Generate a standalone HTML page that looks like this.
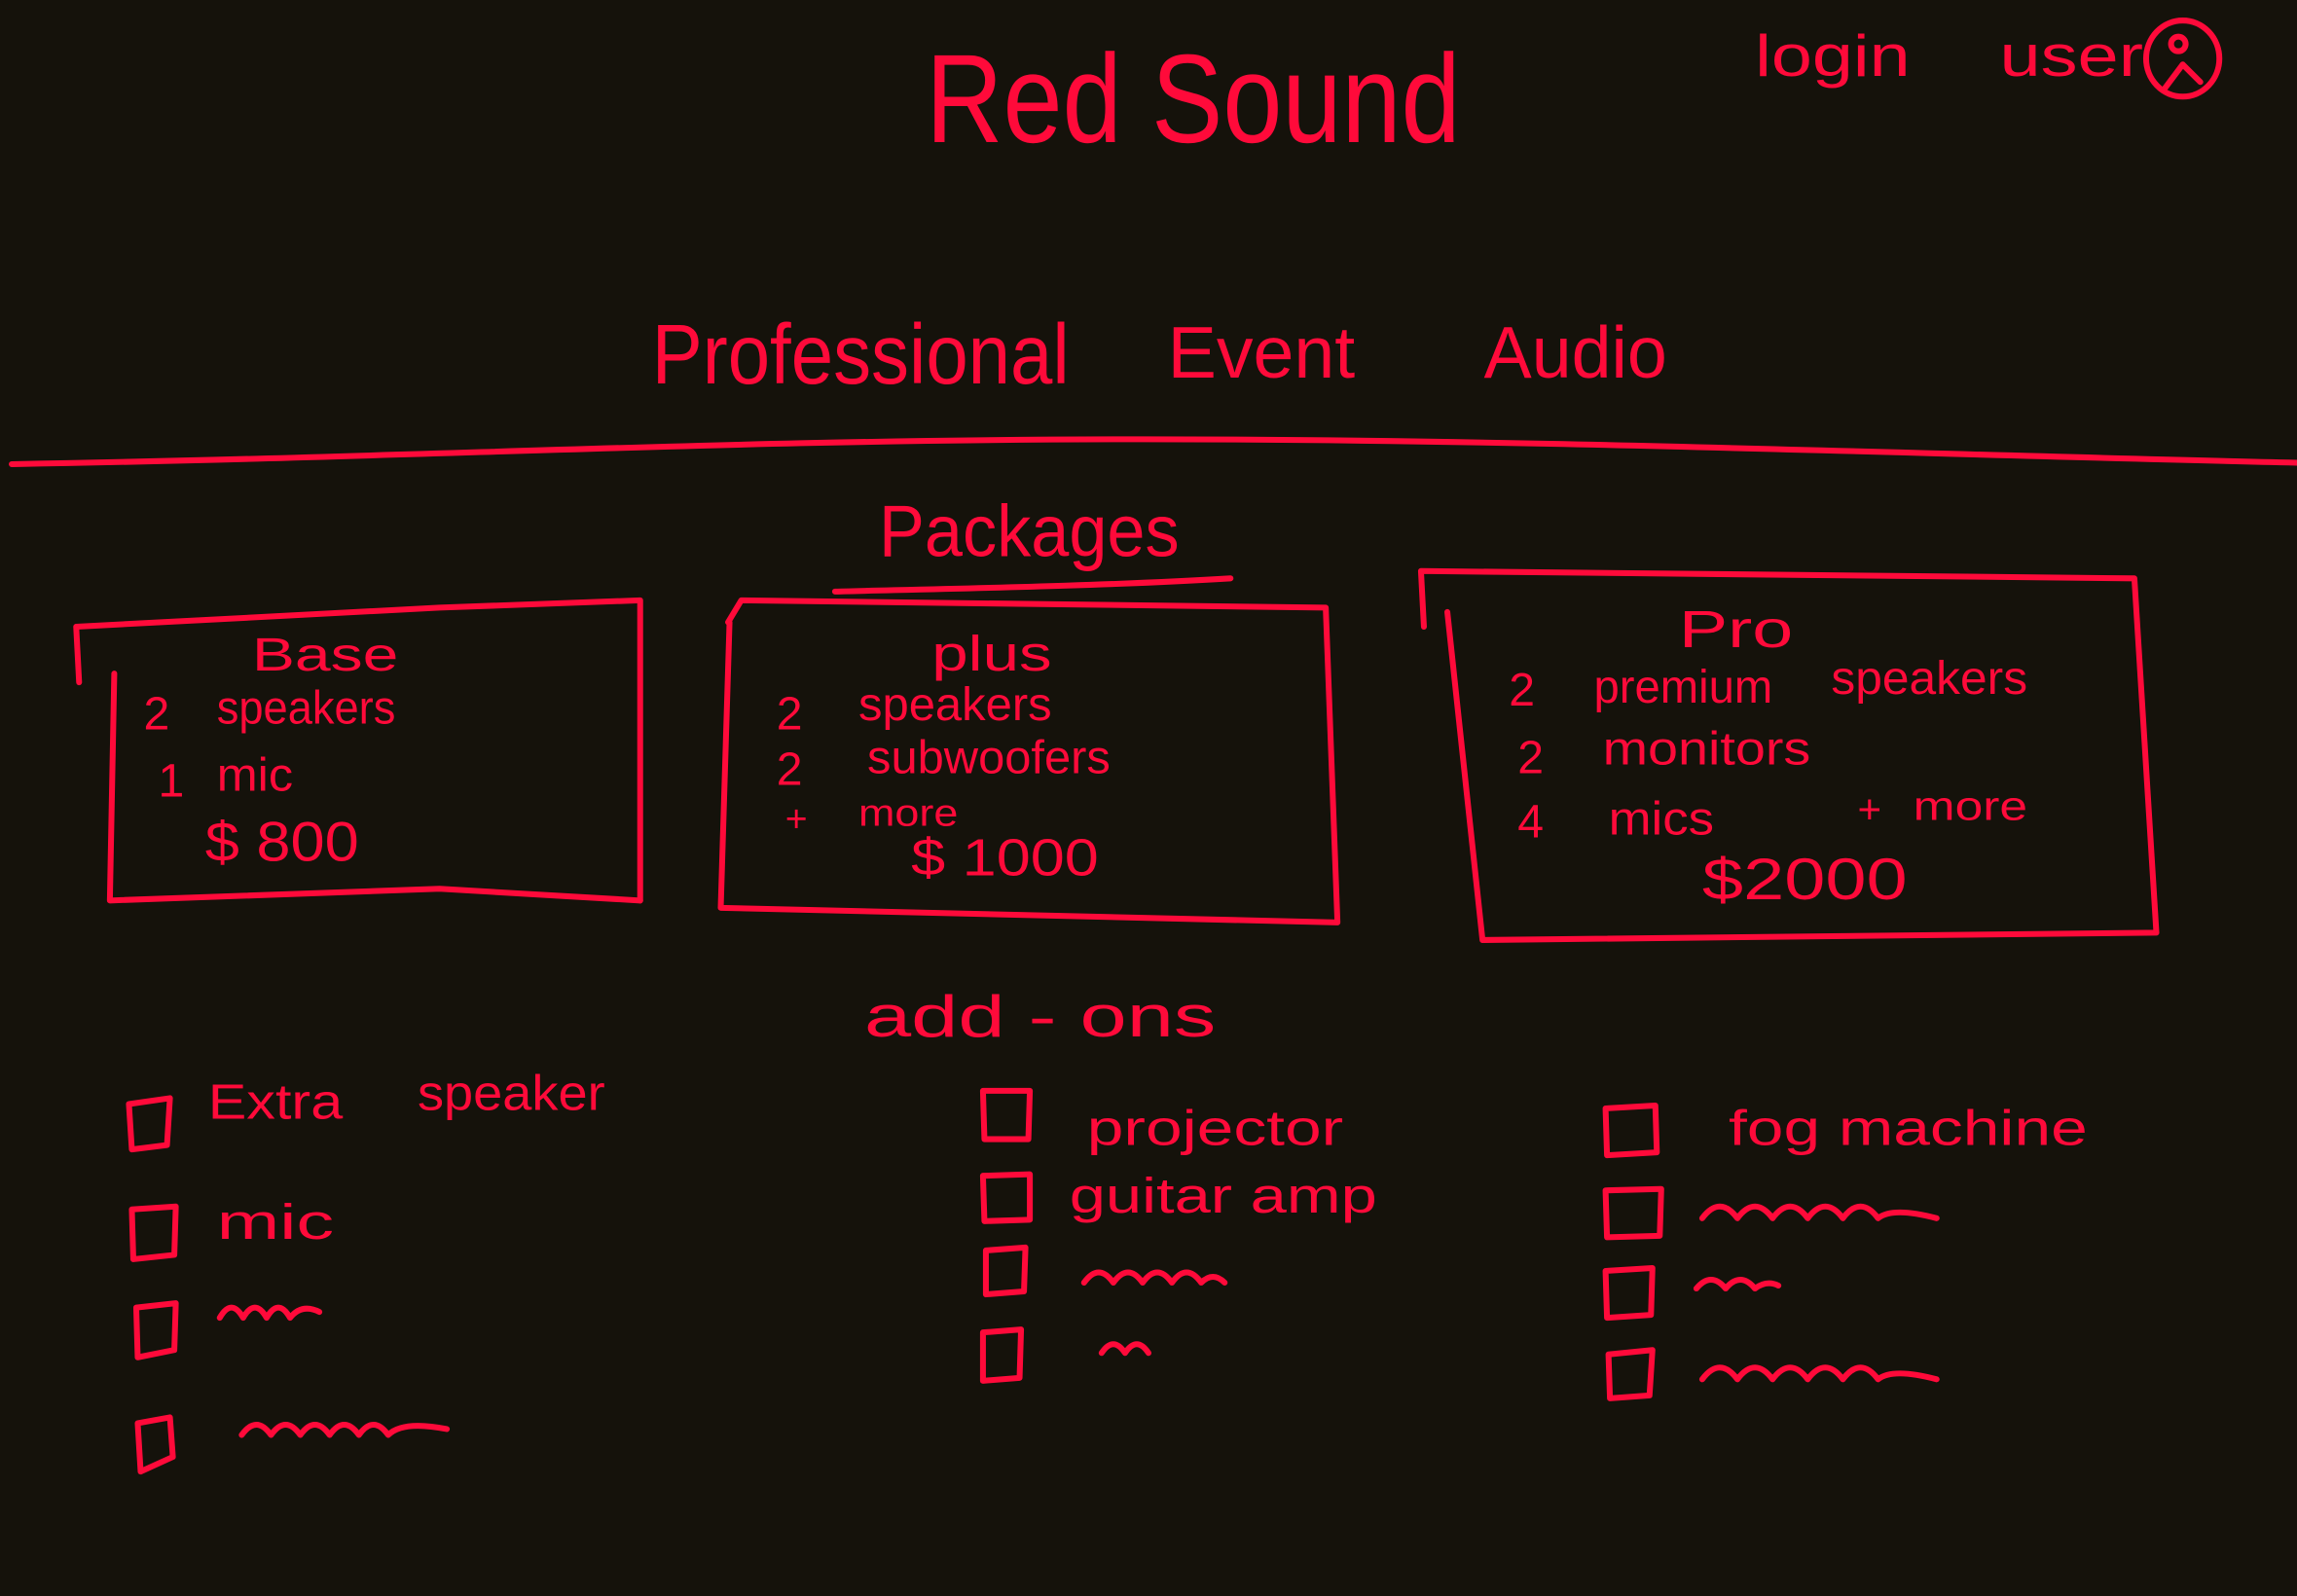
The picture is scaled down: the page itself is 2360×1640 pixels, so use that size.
<!DOCTYPE html>
<html><head><meta charset="utf-8"><style>
html,body{margin:0;padding:0;background:#15120b;}
svg{display:block;}
text{font-family:"Liberation Sans",sans-serif;fill:#ff0a3a;}
</style></head><body>
<svg width="2360" height="1640" viewBox="0 0 1568 1090" preserveAspectRatio="none" xmlns="http://www.w3.org/2000/svg">
<rect width="1568" height="1090" fill="#15120b"/>
<g fill="none" stroke="#ff0a3a" stroke-width="4" stroke-linecap="round" stroke-linejoin="round">
<!-- header line -->
<path d="M8 317 C300 312 500 300 780 300 C1050 300 1300 310 1568 316"/>
<!-- packages underline -->
<path d="M570 404 C650 402 760 400 840 395"/>
<!-- user icon -->
<ellipse cx="1490" cy="40" rx="25" ry="26"/>
<path d="M1478 60 L1490 44 L1502 56"/>
<circle cx="1487" cy="30" r="5"/>
<!-- box1 -->
<path d="M54 466 L52 428 L300 415 L437 410 L437 615"/>
<path d="M78 460 L75 615 L300 607 L437 615"/>
<!-- box2 -->
<path d="M497 425 L506 410 L905 415 L913 630 L492 620 L498 425"/>
<!-- box3 -->
<path d="M972 428 L970 390 L1457 395 L1472 637 L1012 642 L988 418"/>
<!-- checkboxes col1 -->
<path d="M88 754 L116 750 L114 782 L90 785 Z"/>
<path d="M90 826 L120 824 L119 857 L91 860 Z"/>
<path d="M93 893 L120 890 L119 922 L94 927 Z"/>
<path d="M94 972 L116 968 L118 995 L96 1005 Z"/>
<!-- col2 -->
<path d="M671 745 L703 745 L702 778 L672 778 Z"/>
<path d="M671 803 L703 802 L703 833 L672 834 Z"/>
<path d="M673 854 L700 852 L699 882 L673 884 Z"/>
<path d="M671 910 L697 908 L696 941 L671 943 Z"/>
<!-- col3 -->
<path d="M1096 757 L1130 755 L1131 787 L1097 789 Z"/>
<path d="M1096 813 L1134 812 L1133 844 L1097 845 Z"/>
<path d="M1096 868 L1128 866 L1127 898 L1097 900 Z"/>
<path d="M1098 925 L1128 922 L1126 953 L1099 955 Z"/>
<!-- squiggles -->
<path d="M150 900 q8 -14 16 0 q8 -14 16 0 q8 -14 16 0 q8 -10 20 -4"/>
<path d="M165 980 q10 -14 20 0 q10 -14 20 0 q10 -14 20 0 q10 -14 20 0 q10 -14 20 0 q10 -10 40 -4"/>
<path d="M740 876 q10 -14 20 0 q10 -14 20 0 q10 -14 20 0 q10 -14 20 0 q8 -8 16 0"/>
<path d="M752 924 q8 -12 16 0 q8 -12 16 0"/>
<path d="M1162 832 q12 -16 24 0 q12 -16 24 0 q12 -16 24 0 q12 -16 24 0 q12 -16 24 0 q10 -8 40 0"/>
<path d="M1158 880 q10 -12 20 0 q10 -12 20 0 q8 -6 16 -2"/>
<path d="M1162 942 q12 -16 24 0 q12 -16 24 0 q12 -16 24 0 q12 -16 24 0 q12 -16 24 0 q10 -8 40 0"/>
</g>
<text x="632" y="97" font-size="86" textLength="365" lengthAdjust="spacingAndGlyphs">Red Sound</text>
<text x="1198" y="52" font-size="40" textLength="106" lengthAdjust="spacingAndGlyphs">login</text>
<text x="1365" y="52" font-size="40" textLength="98" lengthAdjust="spacingAndGlyphs">user</text>
<text x="445" y="262" font-size="58" textLength="285" lengthAdjust="spacingAndGlyphs">Professional</text>
<text x="797" y="258" font-size="50" textLength="128" lengthAdjust="spacingAndGlyphs">Event</text>
<text x="1013" y="258" font-size="50" textLength="125" lengthAdjust="spacingAndGlyphs">Audio</text>
<text x="600" y="380" font-size="50" textLength="205" lengthAdjust="spacingAndGlyphs">Packages</text>
<g font-size="32">
<text x="172" y="458" textLength="100" lengthAdjust="spacingAndGlyphs">Base</text>
<text x="98" y="498">2</text><text x="148" y="494" textLength="122" lengthAdjust="spacingAndGlyphs">speakers</text>
<text x="108" y="544">1</text><text x="148" y="540" textLength="52" lengthAdjust="spacingAndGlyphs">mic</text>
<text x="140" y="588" font-size="38" textLength="105" lengthAdjust="spacingAndGlyphs">$ 800</text>
<text x="636" y="458" font-size="34" textLength="82" lengthAdjust="spacingAndGlyphs">plus</text>
<text x="530" y="498">2</text><text x="586" y="492" textLength="132" lengthAdjust="spacingAndGlyphs">speakers</text>
<text x="530" y="536">2</text><text x="592" y="528" textLength="166" lengthAdjust="spacingAndGlyphs">subwoofers</text>
<text x="536" y="568" font-size="26">+</text><text x="586" y="564" font-size="26" textLength="68" lengthAdjust="spacingAndGlyphs">more</text>
<text x="622" y="598" font-size="36" textLength="128" lengthAdjust="spacingAndGlyphs">$ 1000</text>
<text x="1146" y="442" font-size="36" textLength="78" lengthAdjust="spacingAndGlyphs">Pro</text>
<text x="1030" y="482">2</text><text x="1088" y="480" textLength="122" lengthAdjust="spacingAndGlyphs">premium</text><text x="1250" y="474" textLength="134" lengthAdjust="spacingAndGlyphs">speakers</text>
<text x="1036" y="528">2</text><text x="1094" y="522" textLength="142" lengthAdjust="spacingAndGlyphs">monitors</text>
<text x="1036" y="572">4</text><text x="1098" y="570" textLength="72" lengthAdjust="spacingAndGlyphs">mics</text>
<text x="1268" y="562" font-size="28">+</text><text x="1306" y="560" font-size="28" textLength="78" lengthAdjust="spacingAndGlyphs">more</text>
<text x="1162" y="614" font-size="40" textLength="140" lengthAdjust="spacingAndGlyphs">$2000</text>
</g>
<text x="590" y="708" font-size="40" textLength="240" lengthAdjust="spacingAndGlyphs">add  - ons</text>
<g font-size="34">
<text x="142" y="764" textLength="92" lengthAdjust="spacingAndGlyphs">Extra</text>
<text x="285" y="758" textLength="128" lengthAdjust="spacingAndGlyphs">speaker</text>
<text x="148" y="846" textLength="80" lengthAdjust="spacingAndGlyphs">mic</text>
<text x="742" y="782" textLength="175" lengthAdjust="spacingAndGlyphs">projector</text>
<text x="730" y="828" textLength="210" lengthAdjust="spacingAndGlyphs">guitar  amp</text>
<text x="1180" y="782" textLength="245" lengthAdjust="spacingAndGlyphs">fog  machine</text>
</g>
</svg>
</body></html>
